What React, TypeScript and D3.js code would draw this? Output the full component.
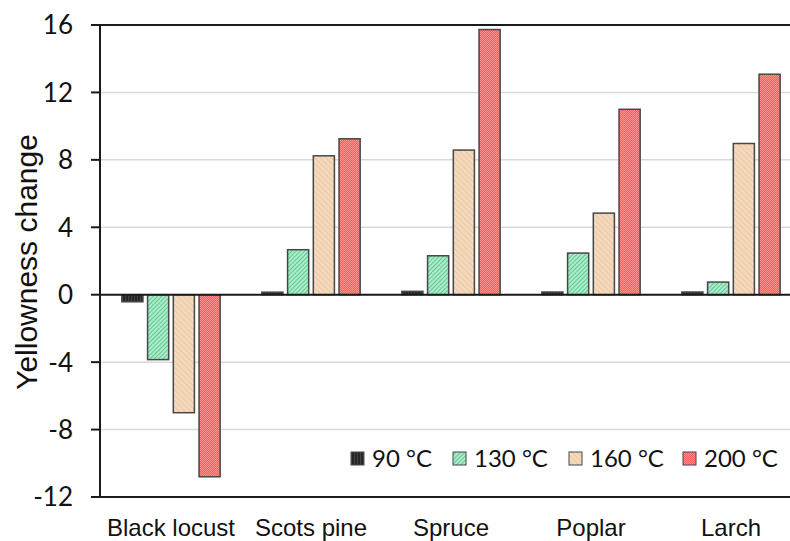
import React from "react";
import * as d3 from "d3";

const categories = ["Black locust", "Scots pine", "Spruce", "Poplar", "Larch"];
const seriesNames = ["90 °C", "130 °C", "160 °C", "200 °C"];
const v90 = [-0.42, 0.15, 0.2, 0.16, 0.16];
const v130 = [-3.85, 2.67, 2.31, 2.47, 0.75];
const v160 = [-7.0, 8.24, 8.58, 4.84, 8.97];
const v200 = [-10.8, 9.25, 15.73, 11.0, 13.08];
const yTicks = [-12, -8, -4, 0, 4, 8, 12, 16];

const seriesValues = [v90, v130, v160, v200];
const patternIds = ["p90", "p130", "p160", "p200"];

const W = 790;
const H = 541;

export default function App() {
  const x0 = d3.scaleBand<string>().domain(categories).range([101, 801]);
  const x1 = d3
    .scaleBand<string>()
    .domain(seriesNames)
    .range([0, x0.bandwidth()])
    .paddingInner(0.18)
    .paddingOuter(0.81);
  const y = d3.scaleLinear().domain([-12, 16]).range([497, 25]);

  const legendX = [351, 453, 569, 683];

  return (
    <svg
      width={W}
      height={H}
      style={{ position: "absolute", left: 0, top: 0, background: "#fff" }}
    >
      <defs>
        <pattern id="p90" width="3" height="3" patternUnits="userSpaceOnUse">
          <rect width="3" height="3" fill="#262626" />
          <rect width="1" height="3" fill="#444" />
        </pattern>
        <pattern
          id="p130"
          width="3"
          height="3"
          patternUnits="userSpaceOnUse"
          patternTransform="rotate(45)"
        >
          <rect width="3" height="3" fill="#aeeccb" />
          <rect width="1" height="3" fill="#5ec890" />
        </pattern>
        <pattern
          id="p160"
          width="4"
          height="4"
          patternUnits="userSpaceOnUse"
          patternTransform="rotate(-45)"
        >
          <rect width="4" height="4" fill="#f5d9bd" />
          <rect width="1" height="4" fill="#ebc7a3" />
        </pattern>
        <pattern id="p200" width="2" height="2" patternUnits="userSpaceOnUse">
          <rect width="2" height="2" fill="#ff9090" />
          <rect width="1" height="1" fill="#ff5c5c" />
          <rect x="1" y="1" width="1" height="1" fill="#ff5c5c" />
        </pattern>
      </defs>

      {/* gridlines */}
      {yTicks
        .filter((t) => t !== 0 && t !== 16 && t !== -12)
        .map((t) => (
          <line
            key={"g" + t}
            x1={100}
            x2={W}
            y1={y(t)}
            y2={y(t)}
            stroke="#d9d9d9"
            strokeWidth={1.5}
          />
        ))}

      {/* bars */}
      {categories.map((c, ci) => (
        <g key={c} transform={`translate(${x0(c)},0)`}>
          {seriesNames.map((s, si) => {
            const v = seriesValues[si][ci];
            const top = y(Math.max(0, v));
            const bottom = y(Math.min(0, v));
            return (
              <rect
                key={s}
                x={x1(s)}
                y={top}
                width={x1.bandwidth()}
                height={bottom - top}
                fill={`url(#${patternIds[si]})`}
                stroke="#474747"
                strokeWidth={1.5}
              />
            );
          })}
        </g>
      ))}

      {/* axes lines */}
      <line x1={91} x2={W} y1={y(16)} y2={y(16)} stroke="#1a1a1a" strokeWidth={2} />
      <line x1={91} x2={W} y1={y(-12)} y2={y(-12)} stroke="#1a1a1a" strokeWidth={2} />
      <line x1={100} x2={W} y1={y(0)} y2={y(0)} stroke="#1a1a1a" strokeWidth={2} />
      <line x1={100} x2={100} y1={y(16)} y2={y(-12)} stroke="#1a1a1a" strokeWidth={2} />
      {yTicks.map((t) => (
        <g key={"t" + t}>
          <line x1={91} x2={100} y1={y(t)} y2={y(t)} stroke="#1a1a1a" strokeWidth={2} />
          <text
            x={73}
            y={y(t)}
            dy="0.36em"
            textAnchor="end"
            fontFamily="Lato, 'Open Sans', sans-serif"
            fontSize={26}
            fill="#111"
          >
            {t}
          </text>
        </g>
      ))}

      {/* category labels */}
      {categories.map((c) => (
        <text
          key={"c" + c}
          x={(x0(c) as number) + x0.bandwidth() / 2}
          y={536}
          textAnchor="middle"
          fontFamily="'Liberation Sans', Arial, sans-serif"
          fontSize={24}
          fill="#111"
        >
          {c}
        </text>
      ))}

      {/* y title */}
      <text
        transform={`translate(37,262) rotate(-90)`}
        textAnchor="middle"
        fontFamily="'Liberation Sans', Arial, sans-serif"
        fontSize={30}
        fill="#111"
      >
        Yellowness change
      </text>

      {/* legend */}
      {seriesNames.map((s, si) => (
        <g key={"l" + s}>
          <rect
            x={legendX[si]}
            y={452}
            width={13}
            height={13}
            fill={`url(#${patternIds[si]})`}
            stroke="#474747"
            strokeWidth={1}
          />
          <text
            x={legendX[si] + 21}
            y={458.5}
            dy="0.36em"
            fontFamily="Lato, 'Open Sans', sans-serif"
            fontSize={24}
            fill="#111"
          >
            {s}
          </text>
        </g>
      ))}
    </svg>
  );
}
